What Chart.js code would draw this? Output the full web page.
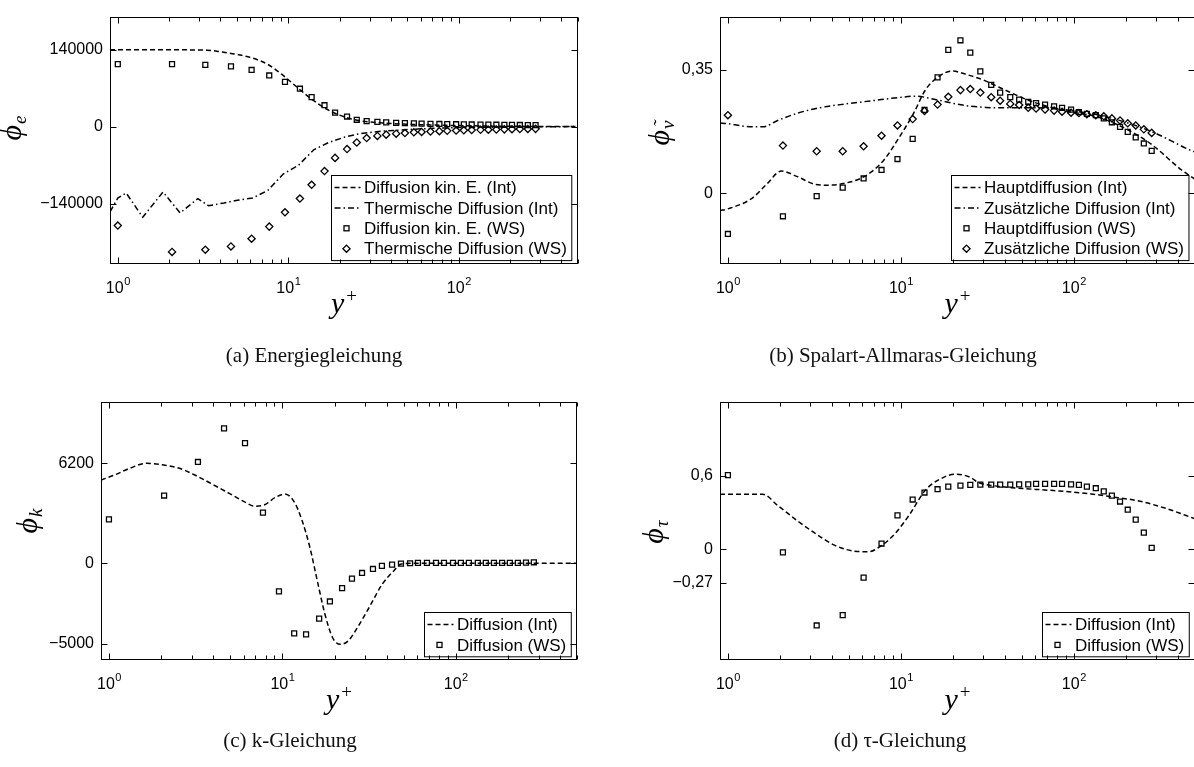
<!DOCTYPE html>
<html lang="de">
<head>
<meta charset="utf-8">
<title>Diffusionsterme</title>
<script src="https://cdn.jsdelivr.net/npm/chart.js@4.4.1/dist/chart.umd.min.js"></script>
<style>
  html, body { margin: 0; padding: 0; background: #fff; }
  body { position: relative; width: 1194px; height: 767px; overflow: hidden; }
  canvas { position: absolute; }
  .cap {
    position: absolute; width: 400px; text-align: center;
    font-family: "Liberation Serif", "Times New Roman", serif;
    font-size: 21px; line-height: 24px; color: #111;
  }
</style>
</head>
<body>
<canvas id="chartA" width="600" height="350" style="left:0;top:0"></canvas>
<canvas id="chartB" width="600" height="350" style="left:600px;top:0"></canvas>
<canvas id="chartC" width="600" height="350" style="left:0;top:380px"></canvas>
<canvas id="chartD" width="600" height="350" style="left:600px;top:380px"></canvas>
<div class="cap" style="left:114px;top:343px">(a) Energiegleichung</div>
<div class="cap" style="left:703px;top:343px">(b) Spalart-Allmaras-Gleichung</div>
<div class="cap" style="left:90px;top:728px">(c) k-Gleichung</div>
<div class="cap" style="left:700px;top:728px">(d) τ-Gleichung</div>
<script>
// y+ Positionen der Wandspektrum-Punkte (WS), gleich fuer alle Diagramme
const yPlusWS = [1.0, 2.08, 3.26, 4.61, 6.09, 7.73, 9.56, 11.7, 13.7, 16.3, 18.8, 22.1, 25.2, 28.8,
  33.3, 37.5, 42.9, 48.3, 54.5, 60.5, 68.2, 76.9, 85.5, 96.4, 107, 119, 134, 149, 166, 185, 205, 228, 254, 282];

// (a) Energiegleichung
const aKinIntX = [0.9, 2.2, 3.32, 4.08, 5.02, 6.17, 7.59, 9.33, 11.5, 14.1, 17.3, 21.3, 26.2, 35.8, 59.9, 100, 169, 500];
const aKinIntY = [139500, 139500, 139000, 135500, 131000, 124500, 113000, 93000, 69000, 47000, 29400, 17600, 10600, 6500, 3500, 1800, 700, 0];
const aThermIntX = [0.9, 1.0, 1.12, 1.4, 1.84, 2.32, 2.95, 3.4, 4.2, 5.02, 6.17, 7.59, 9.33, 11.5, 14.1, 17.3, 21.3, 26.2, 35.8, 59.9, 100, 200, 500];
const aThermIntY = [-155000, -130000, -121000, -165000, -119000, -157000, -131000, -144000, -139000, -134000, -130000, -116000,
  -86400, -70000, -42300, -28800, -19400, -12900, -8200, -4100, -1800, -700, 0];
const aKinWS = [113500, 113500, 112300, 109400, 102900, 92900, 81200, 68800, 53500, 38800, 25300, 18200, 12350, 10000,
  8500, 7500, 6800, 6200, 5700, 5300, 5000, 4700, 4400, 4200, 4000, 3800, 3600, 3400, 3300, 3100, 3000, 2900, 2800, 2700];
const aThermWS = [-180000, -228000, -224000, -218000, -204000, -182000, -156000, -131000, -106000, -81000, -57000, -41000,
  -29000, -21000, -17000, -14700, -12900, -11800, -10500, -9800, -9000, -8400, -7800, -7300, -6800, -6400, -6000, -5700,
  -5400, -5100, -4800, -4600, -4400, -4200];

// (b) Spalart-Allmaras-Gleichung
const bHauptIntX = [0.9, 1.0, 1.37, 1.67, 2.04, 2.5, 3.21, 3.74, 4.57, 6.18, 7.94, 9.71, 11.9, 13.8, 16.3, 19.8, 24, 29.5, 37, 57, 90, 139, 216, 282, 420, 500];
const bHauptIntY = [-0.049, -0.044, -0.015, 0.025, 0.063, 0.048, 0.025, 0.023, 0.027, 0.048, 0.093, 0.156, 0.228, 0.291,
  0.328, 0.346, 0.336, 0.322, 0.300, 0.260, 0.233, 0.215, 0.174, 0.138, 0.066, 0.040];
const bZusIntX = [0.9, 1.0, 1.24, 1.59, 1.94, 2.5, 3.38, 4.8, 6.83, 9.71, 12.3, 14.6, 19.05, 23.8, 31, 40.5, 57.6, 78.6, 103, 140, 199, 284, 482, 500];
const bZusIntY = [0.199, 0.197, 0.190, 0.188, 0.206, 0.226, 0.242, 0.253, 0.262, 0.271, 0.275, 0.269, 0.257, 0.248, 0.243,
  0.242, 0.242, 0.240, 0.232, 0.221, 0.201, 0.174, 0.120, 0.117];
const bHauptWS = [-0.115, -0.065, -0.008, 0.016, 0.042, 0.066, 0.097, 0.154, 0.236, 0.328, 0.406, 0.433, 0.398, 0.345,
  0.307, 0.285, 0.272, 0.265, 0.259, 0.255, 0.251, 0.246, 0.242, 0.237, 0.230, 0.225, 0.221, 0.212, 0.201, 0.188, 0.174,
  0.158, 0.141, 0.120];
const bZusWS = [0.221, 0.135, 0.119, 0.119, 0.133, 0.163, 0.192, 0.210, 0.233, 0.251, 0.273, 0.292, 0.295, 0.285, 0.272,
  0.262, 0.253, 0.250, 0.242, 0.240, 0.237, 0.234, 0.231, 0.228, 0.227, 0.224, 0.221, 0.218, 0.212, 0.206, 0.198, 0.192,
  0.181, 0.171];

// (c) k-Gleichung
const cDiffIntX = [0.9, 1.076, 1.318, 1.656, 2.08, 2.55, 3.13, 4.03, 4.94, 6.05, 6.88, 7.8, 9.1, 10.3, 11.7, 12.98, 14.4,
  15.9, 17.6, 19.5, 21.6, 23.9, 27.8, 32.4, 37.7, 44, 48.6, 62.7, 500];
const cDiffIntY = [5160, 5470, 5890, 6200, 6090, 5890, 5470, 4850, 4330, 3810, 3540, 3600, 4080, 4290, 3810, 2660, 1000,
  -1080, -3160, -4620, -5030, -4830, -3790, -2540, -1290, -460, -40, 0, 0];
const cDiffWS = [2725, 4200, 6280, 8360, 7450, 3140, -1747, -4350, -4410, -3430, -2370, -1540, -957, -603, -354, -166, -83,
  -21, 0, 20, 20, 20, 20, 20, 20, 20, 20, 20, 20, 20, 20, 20, 40, 60];

// (d) tau-Gleichung
const dDiffIntX = [0.9, 1.59, 1.94, 2.5, 3.21, 4.13, 5.31, 6.5, 7.56, 9.25, 11.3, 13.8, 16.9, 20.7, 25.3, 27.9, 34.2, 46.2,
  76.3, 126, 171, 231, 346, 500];
const dDiffIntY = [0.449, 0.449, 0.358, 0.237, 0.129, 0.035, -0.013, -0.019, 0.022, 0.129, 0.29, 0.479, 0.573, 0.613,
  0.586, 0.546, 0.519, 0.500, 0.479, 0.452, 0.425, 0.398, 0.331, 0.25];
const dDiffWS = [0.605, -0.024, -0.619, -0.535, -0.229, 0.048, 0.277, 0.406, 0.463, 0.49, 0.511, 0.519, 0.525, 0.527,
  0.527, 0.527, 0.527, 0.53, 0.53, 0.533, 0.533, 0.533, 0.533, 0.53, 0.525, 0.511, 0.498, 0.473, 0.438, 0.39, 0.323,
  0.242, 0.137, 0.013];

// y-Ticks
const aTicks = [-140000, 0, 140000];
const bTicks = [0, 0.35];
const cTicks = [-5000, 0, 6200];
const dTicks = [-0.27, 0, 0.6];

const SANS = '"Liberation Sans", Arial, Helvetica, sans-serif';
const SERIF = '"Liberation Serif", "DejaVu Serif", "Times New Roman", serif';
const DASH = [5, 3];
const DASHDOT = [6, 3, 1.5, 3];

const pts = (xs, ys) => xs.map((x, i) => ({ x: x, y: ys[i] }));
const fmtTick = (v) => (v < 0 ? '\u2212' : '') + String(Math.abs(v)).replace('.', ',');

const lineSet = (xs, ys, dash, smooth) => ({
  data: pts(xs, ys), showLine: true, pointRadius: 0, borderColor: '#000', borderWidth: 1.5,
  borderDash: dash, fill: false, cubicInterpolationMode: smooth ? 'monotone' : 'default', tension: 0
});
const markerSet = (ys, style) => ({
  data: pts(yPlusWS, ys), showLine: false,
  pointStyle: style, pointRadius: style === 'rect' ? 3.5 : 3.6,
  borderColor: '#000', borderWidth: 1.3, backgroundColor: 'rgba(0,0,0,0)'
});

// Achsen im MATLAB-Stil: Rahmen, Ticks nach innen, Beschriftungen, Legende
const matlabAxes = {
  id: 'matlabAxes',
  afterDraw(chart, args, o) {
    const { ctx, chartArea: a } = chart;
    const x = chart.scales.x, y = chart.scales.y;
    const L = Math.round(a.left) + 0.5, R = Math.round(a.right) - 0.5;
    const T = Math.round(a.top) + 0.5, B = Math.round(a.bottom) - 0.5;
    ctx.save();
    ctx.strokeStyle = '#000';
    ctx.fillStyle = '#000';
    ctx.lineWidth = 1;
    ctx.setLineDash([]);

    // Legende
    const lg = o.legend;
    ctx.font = '17px ' + SANS;
    let maxW = 0;
    lg.forEach((e) => { maxW = Math.max(maxW, ctx.measureText(e.label).width); });
    const rowH = 20.4;
    const bw = 32.5 + maxW + 5, bh = lg.length * rowH + 3.5;
    const bx = Math.round(R - 6 - bw) + 0.5, by = Math.round(B - 3 - bh) + 0.5;
    ctx.fillStyle = '#fff';
    ctx.fillRect(bx, by, bw, bh);
    ctx.strokeRect(bx, by, bw, bh);
    ctx.fillStyle = '#000';
    ctx.textBaseline = 'middle';
    ctx.textAlign = 'left';
    lg.forEach((e, i) => {
      const cy = by + 12 + i * rowH;
      if (e.dash) {
        ctx.lineWidth = 1.5;
        ctx.setLineDash(e.dash);
        ctx.beginPath(); ctx.moveTo(bx + 3, cy); ctx.lineTo(bx + 29, cy); ctx.stroke();
        ctx.setLineDash([]);
      }
      ctx.lineWidth = 1.3;
      const mx = bx + 15;
      if (e.marker === 'rect') {
        ctx.strokeRect(mx - 2.5, cy - 2.5, 5, 5);
      } else if (e.marker === 'rectRot') {
        ctx.beginPath();
        ctx.moveTo(mx, cy - 3.6); ctx.lineTo(mx + 3.6, cy); ctx.lineTo(mx, cy + 3.6); ctx.lineTo(mx - 3.6, cy);
        ctx.closePath();
        ctx.stroke();
      }
      ctx.fillText(e.label, bx + 32.5, cy + 1);
    });

    // Rahmen
    ctx.lineWidth = 1;
    ctx.strokeRect(L, T, R - L, B - T);

    // Ticks nach innen
    ctx.beginPath();
    for (let k = -1; k <= 3; k++) {
      for (let m = 1; m <= 9; m++) {
        const v = m * Math.pow(10, k);
        if (v < x.min || v > x.max) continue;
        const px = Math.round(x.getPixelForValue(v)) + 0.5;
        const len = m === 1 ? 6 : 4;
        ctx.moveTo(px, B); ctx.lineTo(px, B - len);
        ctx.moveTo(px, T); ctx.lineTo(px, T + len);
      }
    }
    y.ticks.forEach((t) => {
      const py = Math.round(y.getPixelForValue(t.value)) + 0.5;
      ctx.moveTo(L, py); ctx.lineTo(L + 6, py);
      ctx.moveTo(R, py); ctx.lineTo(R - 6, py);
    });
    ctx.stroke();

    // x-Beschriftung 10^k
    ctx.textBaseline = 'alphabetic';
    ctx.textAlign = 'left';
    for (let k = 0; k <= 2; k++) {
      const px = x.getPixelForValue(Math.pow(10, k));
      ctx.font = '16px ' + SANS;
      const w1 = ctx.measureText('10').width;
      ctx.font = '11px ' + SANS;
      const w2 = ctx.measureText(String(k)).width;
      const sx = px - (w1 + w2) / 2;
      ctx.font = '16px ' + SANS;
      ctx.fillText('10', sx, B + 29);
      ctx.font = '11px ' + SANS;
      ctx.fillText(String(k), sx + w1 + 0.5, B + 21);
    }

    // x-Titel y+
    ctx.font = 'italic 30px ' + SERIF;
    const wy = ctx.measureText('y').width;
    ctx.font = '19px ' + SERIF;
    const wp = ctx.measureText('+').width;
    const cx = (L + R) / 2 - (wy + wp + 2) / 2;
    ctx.font = 'italic 30px ' + SERIF;
    ctx.fillText('y', cx, B + 49);
    ctx.font = '19px ' + SERIF;
    ctx.fillText('+', cx + wy + 2, B + 38);

    // y-Titel phi mit Index
    const t = o.yTitle;
    ctx.translate(t.x, t.y);
    ctx.rotate(-Math.PI / 2);
    ctx.font = 'italic 30px ' + SERIF;
    const w3 = ctx.measureText('\u03d5').width;
    ctx.font = 'italic 19px ' + SERIF;
    const w4 = ctx.measureText(t.sub).width;
    const sx = -(w3 + w4 + 1) / 2;
    ctx.font = 'italic 30px ' + SERIF;
    ctx.fillText('\u03d5', sx, 0);
    ctx.font = 'italic 19px ' + SERIF;
    ctx.fillText(t.sub, sx + w3 + 1, 5);
    if (t.tilde) {
      // Tilde ueber dem Index
      ctx.fillText('\u02dc', sx + w3 + 1 + w4 / 2 - ctx.measureText('\u02dc').width / 2 + 1, -2);
    }
    ctx.restore();
  }
};

function makeChart(id, c) {
  return new Chart(document.getElementById(id), {
    type: 'scatter',
    data: { datasets: c.datasets },
    options: {
      responsive: false,
      animation: false,
      devicePixelRatio: 1,
      layout: { padding: { left: 0, right: c.padR, top: c.padT, bottom: 0 } },
      plugins: {
        legend: { display: false },
        tooltip: { enabled: false },
        matlabAxes: { legend: c.legend, yTitle: c.yTitle }
      },
      scales: {
        x: {
          type: 'logarithmic', min: 0.9, max: 500,
          ticks: { display: false },
          grid: { display: false },
          border: { display: false },
          afterFit: (s) => { s.height = c.xH; }
        },
        y: {
          type: 'linear', min: c.yMin, max: c.yMax,
          afterBuildTicks: (s) => { s.ticks = c.yTicks.map((v) => ({ value: v })); },
          ticks: { callback: (v) => fmtTick(v), color: '#000', padding: 7, font: { family: SANS, size: 16 } },
          grid: { display: false, drawTicks: false },
          border: { display: false },
          afterFit: (s) => { s.width = c.yW; }
        }
      }
    },
    plugins: [matlabAxes]
  });
}

makeChart('chartA', {
  yMin: -250000, yMax: 200000, yTicks: aTicks, yW: 110, padR: 22, padT: 6, xH: 86,
  yTitle: { x: 21, y: 128, sub: 'e' },
  datasets: [
    lineSet(aKinIntX, aKinIntY, DASH, true),
    lineSet(aThermIntX, aThermIntY, DASHDOT, false),
    markerSet(aKinWS, 'rect'),
    markerSet(aThermWS, 'rectRot')
  ],
  legend: [
    { label: 'Diffusion kin. E. (Int)', dash: DASH },
    { label: 'Thermische Diffusion (Int)', dash: DASHDOT },
    { label: 'Diffusion kin. E. (WS)', marker: 'rect' },
    { label: 'Thermische Diffusion (WS)', marker: 'rectRot' }
  ]
});

makeChart('chartB', {
  yMin: -0.2, yMax: 0.5, yTicks: bTicks, yW: 120, padR: 4, padT: 6, xH: 86,
  yTitle: { x: 69, y: 133, sub: '\u03bd', tilde: true },
  datasets: [
    lineSet(bHauptIntX, bHauptIntY, DASH, true),
    lineSet(bZusIntX, bZusIntY, DASHDOT, true),
    markerSet(bHauptWS, 'rect'),
    markerSet(bZusWS, 'rectRot')
  ],
  legend: [
    { label: 'Hauptdiffusion (Int)', dash: DASH },
    { label: 'Zusätzliche Diffusion (Int)', dash: DASHDOT },
    { label: 'Hauptdiffusion (WS)', marker: 'rect' },
    { label: 'Zusätzliche Diffusion (WS)', marker: 'rectRot' }
  ]
});

makeChart('chartC', {
  yMin: -6000, yMax: 10000, yTicks: cTicks, yW: 101, padR: 23, padT: 22, xH: 70,
  yTitle: { x: 37, y: 141, sub: 'k' },
  datasets: [
    lineSet(cDiffIntX, cDiffIntY, DASH, true),
    markerSet(cDiffWS, 'rect')
  ],
  legend: [
    { label: 'Diffusion (Int)', dash: DASH },
    { label: 'Diffusion (WS)', marker: 'rect' }
  ]
});

makeChart('chartD', {
  yMin: -0.9, yMax: 1.2, yTicks: dTicks, yW: 120, padR: 4, padT: 22, xH: 70,
  yTitle: { x: 63, y: 152, sub: '\u03c4' },
  datasets: [
    lineSet(dDiffIntX, dDiffIntY, DASH, true),
    markerSet(dDiffWS, 'rect')
  ],
  legend: [
    { label: 'Diffusion (Int)', dash: DASH },
    { label: 'Diffusion (WS)', marker: 'rect' }
  ]
});
</script>
</body>
</html>
